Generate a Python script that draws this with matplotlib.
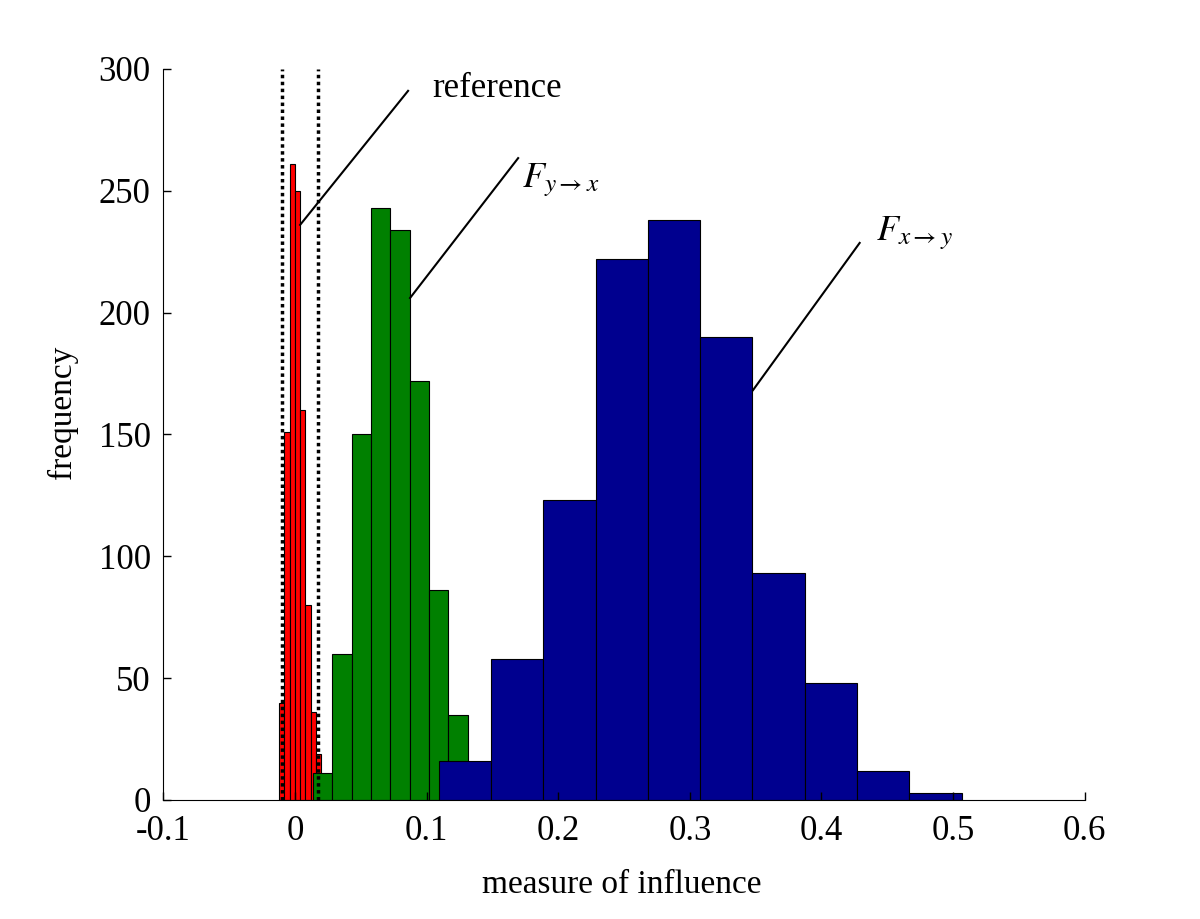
"""
Histograms of the influence measure: reference vs. both directions
"""

import numpy as np
import matplotlib
matplotlib.use('Agg')
import matplotlib.pyplot as plt

# bin ranges (min, max of each sample) and counts, 10 bins each
ref_range = (-0.0119, 0.0280)
ref_counts = [40, 151, 261, 250, 160, 80, 36, 19, 2, 1]

yx_range = (0.0137, 0.1605)
yx_counts = [11, 60, 150, 243, 234, 172, 86, 35, 7, 2]

xy_range = (0.1092, 0.5065)
xy_counts = [16, 58, 123, 222, 238, 190, 93, 48, 12, 3]

# dotted bounds of the reference distribution
ref_bounds = [-0.0099, 0.0175]

xticks = [-0.1, 0, 0.1, 0.2, 0.3, 0.4, 0.5, 0.6]
xticklabels = ['-0.1', '0', '0.1', '0.2', '0.3', '0.4', '0.5', '0.6']
yticks = [0, 50, 100, 150, 200, 250, 300]

plt.rcParams['font.family'] = ['Liberation Serif', 'DejaVu Serif']
plt.rcParams['mathtext.fontset'] = 'stix'


def draw_hist(ax, rng, counts, color):
    edges = np.linspace(rng[0], rng[1], len(counts) + 1)
    ax.bar(edges[:-1], counts, width=np.diff(edges), align='edge',
           color=color, edgecolor='black', linewidth=0.8)


fig = plt.figure(figsize=(12, 9.19), dpi=100)
ax = fig.add_axes([0.136, 0.1295, 0.768, 0.7955])

draw_hist(ax, ref_range, ref_counts, '#ff0000')
draw_hist(ax, yx_range, yx_counts, '#008000')
draw_hist(ax, xy_range, xy_counts, '#00008f')

ax.vlines(ref_bounds, 0, 300, colors='black', linestyles=(0, (1, 1)),
          linewidth=2.5, zorder=5)

ax.set_xlim(-0.1, 0.6)
ax.set_ylim(0, 300)
ax.set_xticks(xticks)
ax.set_xticklabels(xticklabels)
ax.set_yticks(yticks)
ax.spines['top'].set_visible(False)
ax.spines['right'].set_visible(False)
ax.tick_params(direction='in', length=6, width=1, labelsize=25)
ax.tick_params(axis='x', pad=11)
ax.tick_params(axis='y', pad=9)

ax.set_xlabel('measure of influence', fontsize=24)
ax.xaxis.set_label_coords(0.498, -0.095)
ax.set_ylabel('frequency', fontsize=24)
ax.yaxis.set_label_coords(-0.092, 0.53)

# annotation leaders
ax.plot([0.004, 0.086], [236, 291], color='black', lw=1.5)
ax.text(0.1042, 288.5, 'reference', fontsize=25, ha='left', va='baseline')

ax.plot([0.0875, 0.1696], [206, 263.4], color='black', lw=1.5)
ax.text(0.1727, 251.3, r'$F_{y\rightarrow x}$', fontsize=26, ha='left', va='baseline')

ax.plot([0.348, 0.429], [168.2, 228.6], color='black', lw=1.5)
ax.text(0.4413, 229.8, r'$F_{x\rightarrow y}$', fontsize=26, ha='left', va='baseline')

fig.savefig('out.png', dpi=100)
plt.close(fig)
